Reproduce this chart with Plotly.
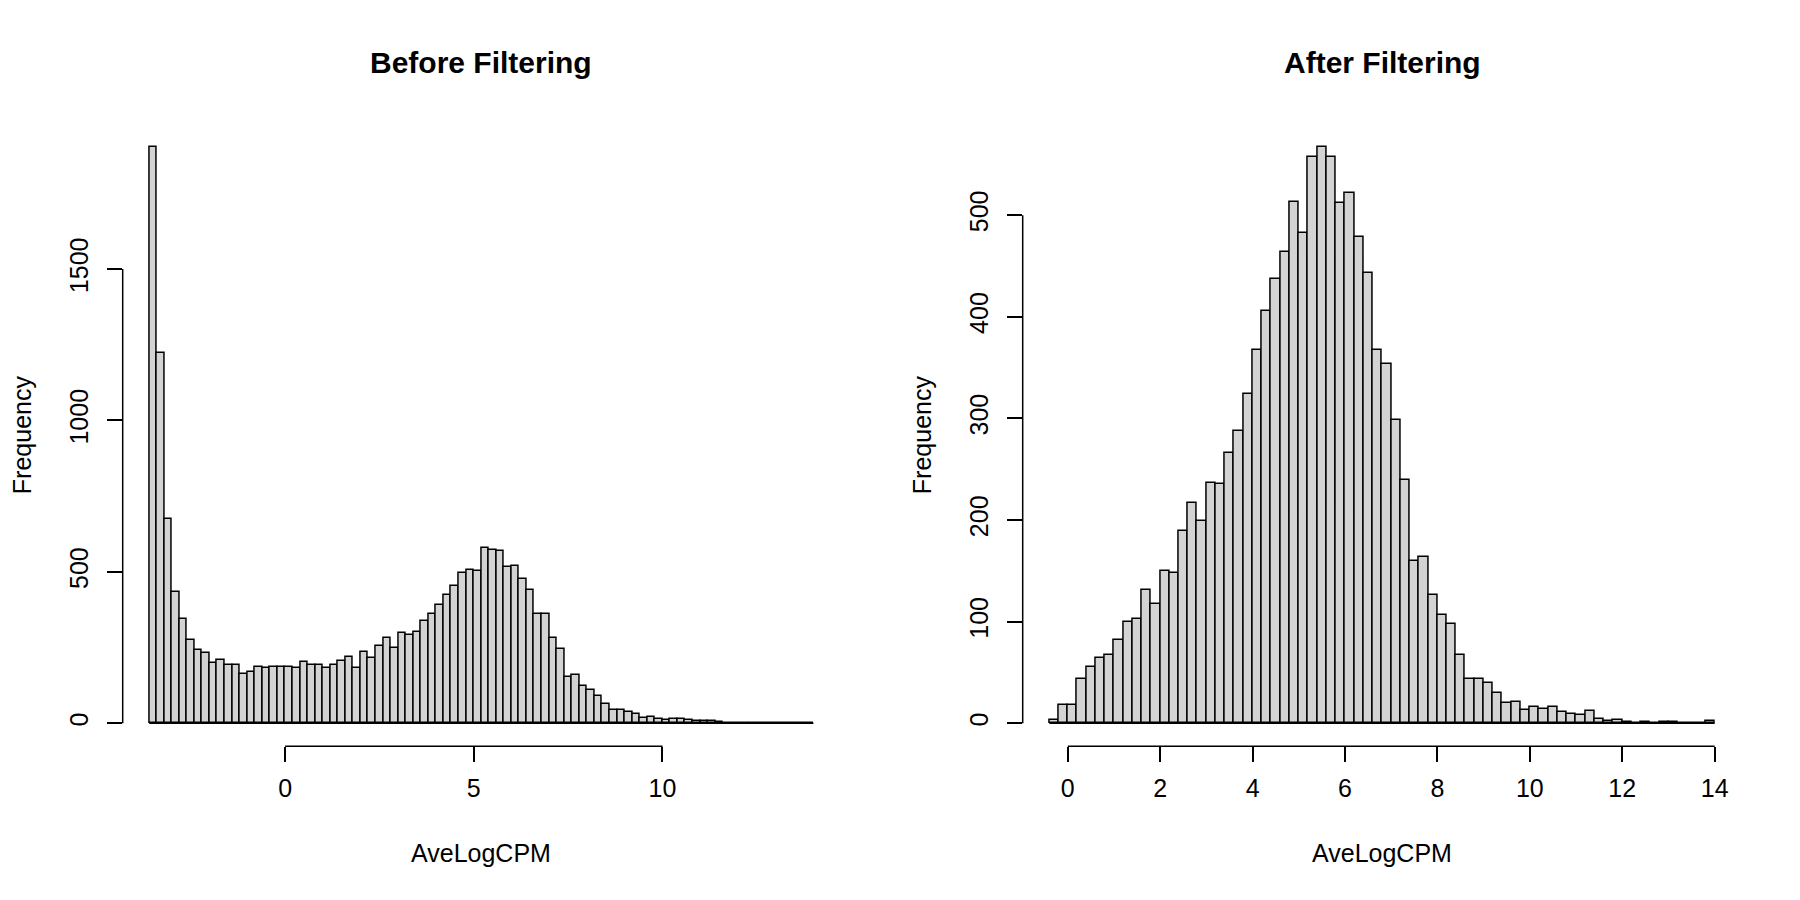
import plotly.graph_objects as go

# Histogram counts (hist with 0.2-wide bins)
bin_width = 0.2

before_start = -3.6
before_counts = [
    1903, 1224, 673, 434, 344, 276, 242, 232, 199, 210,
    194, 193, 164, 168, 186, 183, 186, 186, 187, 184,
    202, 192, 191, 183, 192, 205, 220, 181, 235, 217,
    256, 281, 250, 297, 293, 301, 338, 360, 389, 424,
    452, 495, 507, 504, 579, 571, 569, 517, 521, 478,
    441, 360, 362, 283, 246, 153, 158, 123, 110, 90,
    63, 44, 45, 36, 31, 16, 20, 14, 11, 15,
    15, 11, 6, 9, 7, 3, 2, 2, 1, 1,
    1, 1, 1, 1, 0, 0, 0, 2,
]

after_start = -0.4
after_counts = [
    3, 18, 18, 44, 55, 64, 67, 82, 100, 103,
    131, 117, 150, 148, 189, 217, 199, 236, 235, 266,
    288, 324, 367, 406, 437, 464, 513, 482, 557, 567,
    557, 512, 522, 478, 443, 367, 354, 298, 239, 160,
    164, 126, 107, 98, 67, 44, 44, 40, 30, 20,
    21, 13, 16, 14, 16, 11, 9, 8, 12, 4,
    2, 3, 1, 0, 1, 0, 1, 1, 0, 0,
    0, 2,
]

before_xticks = [0, 5, 10]
before_yticks = [0, 500, 1000, 1500]
after_xticks = [0, 2, 4, 6, 8, 10, 12, 14]
after_yticks = [0, 100, 200, 300, 400, 500]

FONT = "Liberation Sans, Arial, Helvetica, sans-serif"
FILL = "#D3D3D3"
W, H = 1800, 900
OFF = 8  # page body margin shifts the figure by this much


def px_x(x):
    return (x - OFF) / W


def px_y(y):
    return 1 - (y - OFF) / H


def bin_centers(start, counts):
    return [round(start + bin_width * (i + 0.5), 2) for i in range(len(counts))]


def r_range(lo, hi):
    # R pads the data range by 4% on each side
    pad = 0.04 * (hi - lo)
    return [lo - pad, hi + pad]


before_end = before_start + bin_width * len(before_counts)
after_end = after_start + bin_width * len(after_counts)

fig = go.Figure()

for xa, ya, start, end, counts in [("x", "y", before_start, before_end, before_counts),
                                   ("x2", "y2", after_start, after_end, after_counts)]:
    fig.add_trace(go.Bar(
        x=bin_centers(start, counts),
        y=counts,
        width=bin_width,
        marker=dict(color=FILL, line=dict(color="black", width=1.5)),
        xaxis=xa, yaxis=ya,
        showlegend=False, hoverinfo="x+y",
    ))
    # empty bins still get a flat outline in R
    fig.add_trace(go.Scatter(
        x=[start, end], y=[0, 0], mode="lines",
        line=dict(color="black", width=1.5),
        xaxis=xa, yaxis=ya, showlegend=False, hoverinfo="skip",
    ))

axis_common = dict(
    showgrid=False, zeroline=False, showline=False, automargin=False,
    ticks="outside", ticklen=15, tickwidth=1.5, tickcolor="black",
    tickfont=dict(family=FONT, size=25, color="black"),
)

plot_top, plot_bottom = 124, 746.3
ydom = [px_y(plot_bottom), px_y(plot_top)]
left_dom = [px_x(122.7), px_x(840)]
right_dom = [px_x(1022.7), px_x(1741.3)]

fig.update_layout(
    width=W, height=H,
    margin=dict(l=0, r=0, t=0, b=0),
    paper_bgcolor="white", plot_bgcolor="white",
    bargap=0,
    font=dict(family=FONT, color="black"),
    xaxis=dict(domain=left_dom, anchor="y",
               range=r_range(before_start, before_end),
               tickvals=before_xticks, ticklabelstandoff=5, **axis_common),
    yaxis=dict(domain=ydom, anchor="x",
               range=r_range(0, max(before_counts)),
               tickvals=before_yticks, tickangle=-90, ticklabelstandoff=9, **axis_common),
    xaxis2=dict(domain=right_dom, anchor="y2",
                range=r_range(after_start, after_end),
                tickvals=after_xticks, ticklabelstandoff=5, **axis_common),
    yaxis2=dict(domain=ydom, anchor="x2",
                range=r_range(0, max(after_counts)),
                tickvals=after_yticks, tickangle=-90, ticklabelstandoff=9, **axis_common),
)

# R-style axis lines that only run between the first and last tick
for xa, ya, xt, yt in [("x", "y", before_xticks, before_yticks),
                       ("x2", "y2", after_xticks, after_yticks)]:
    fig.add_shape(type="line", xref=xa, yref=ya + " domain",
                  x0=xt[0], x1=xt[-1], y0=0, y1=0,
                  line=dict(color="black", width=1.5))
    fig.add_shape(type="line", xref=xa + " domain", yref=ya,
                  x0=0, x1=0, y0=yt[0], y1=yt[-1],
                  line=dict(color="black", width=1.5))

# titles and axis labels
for dom, title, ylab_x in [(left_dom, "Before Filtering", 22),
                           (right_dom, "After Filtering", 922)]:
    xc = sum(dom) / 2
    fig.add_annotation(x=xc, y=px_y(62.7), xref="paper", yref="paper",
                       xanchor="center", yanchor="middle",
                       text="<b>" + title + "</b>", showarrow=False,
                       font=dict(family=FONT, size=30, color="black"))
    fig.add_annotation(x=xc, y=px_y(853), xref="paper", yref="paper",
                       xanchor="center", yanchor="middle",
                       text="AveLogCPM", showarrow=False,
                       font=dict(family=FONT, size=25, color="black"))
    fig.add_annotation(x=px_x(ylab_x), y=sum(ydom) / 2, xref="paper", yref="paper",
                       xanchor="center", yanchor="middle",
                       text="Frequency", textangle=-90, showarrow=False,
                       font=dict(family=FONT, size=25, color="black"))

fig.write_html("out.html")
